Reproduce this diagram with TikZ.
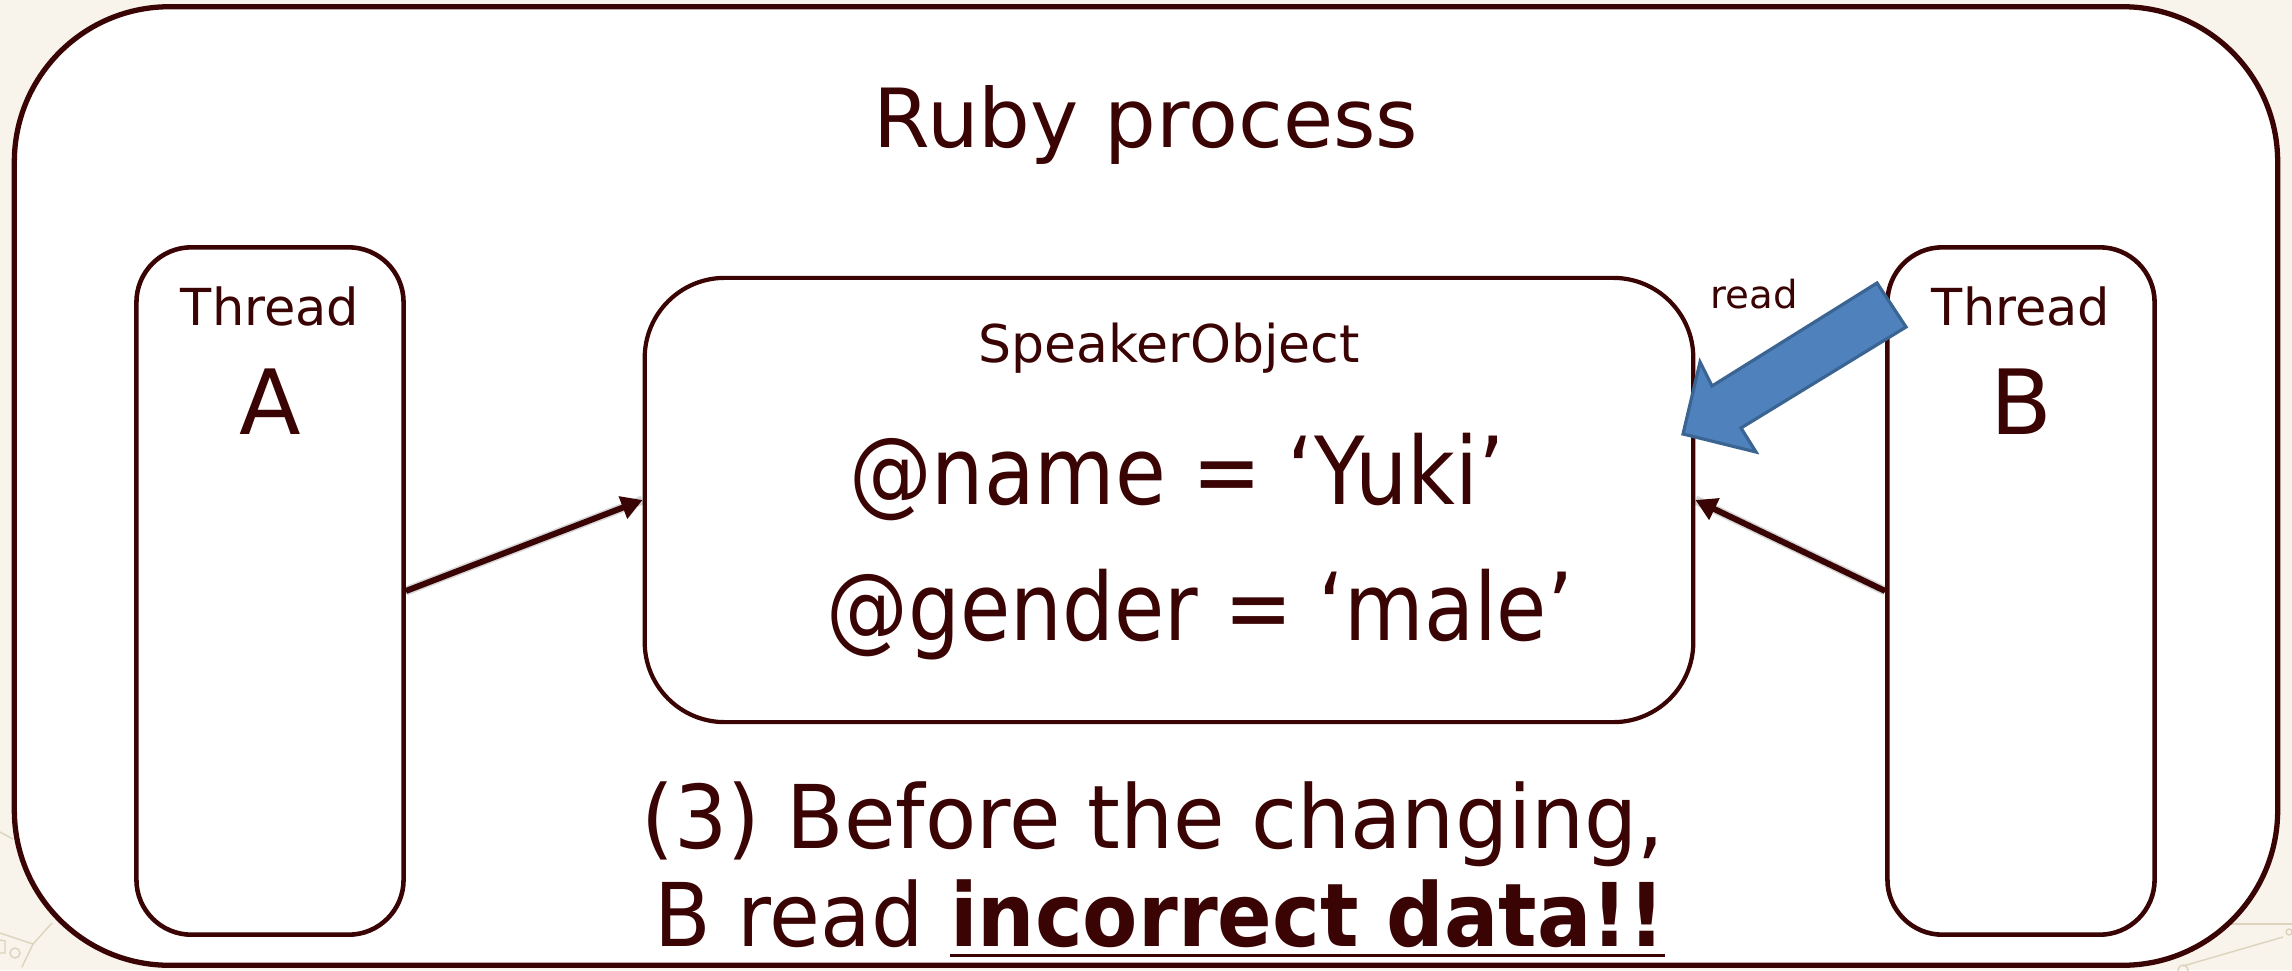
\documentclass[tikz,border=0pt]{standalone}
\usepackage{fontspec}
\setmainfont{DejaVu Sans}
\usetikzlibrary{arrows.meta}

\definecolor{ink}{HTML}{3A0404}
\definecolor{paper}{HTML}{F8F4EC}
\definecolor{sketch}{HTML}{DDD3BD}
\definecolor{blockfill}{HTML}{4F81BD}
\definecolor{blockedge}{HTML}{3A6491}

% font size helper (pt)
\newcommand\fsz[1]{\fontsize{#1}{#1}\selectfont}
% heavy underline
\newcommand\thickul[1]{\sbox0{#1}\rlap{\usebox0}\rule[-3.1pt]{\wd0}{0.9pt}}

\tikzset{
  frame/.style={draw=ink, line width=1.5pt, fill=white, rounded corners=1.55cm, inner sep=0},
  threadbox/.style={draw=ink, line width=1.3pt, fill=white, rounded corners=0.55cm,
    minimum width=2.67cm, minimum height=6.87cm, inner sep=0},
  objbox/.style={draw=ink, line width=1.2pt, fill=white, rounded corners=0.8cm,
    minimum width=10.48cm, minimum height=4.44cm, inner sep=0},
  lbl/.style={text=ink, inner sep=0, anchor=base},
  link/.style={draw=ink, line width=1.7pt, -{Triangle[length=6pt,width=6.5pt]}},
  linkshadow/.style={draw=black, opacity=0.16, line width=2.6pt},
  blockarrow/.style={fill=blockfill, draw=blockedge, line width=0.9pt, line join=miter},
  sketchline/.style={draw=sketch, line width=0.4pt}
}

\begin{document}
\begin{tikzpicture}[x=0.01cm, y=-0.01cm]
  % page
  \fill[paper] (0,0) rectangle (2292,970);
  \useasboundingbox (0,0) rectangle (2292,970);

  % faint template sketch in the lower corners
  \draw[sketchline] (0,832) -- (13,839);
  \draw[sketchline] (0,933) -- (33,944) -- (52,923);
  \draw[sketchline] (33,944) -- (22,967);
  \draw[sketchline] (0,940) -- (5,941) -- (5,953) -- (0,953);
  \draw[sketchline] (15,953) circle (5);
  \draw[sketchline] (2230,924) -- (2292,924);
  \draw[sketchline] (2283,937) -- (2183,966);
  \draw[sketchline] (2289,932) circle (3);
  \draw[sketchline] (2183,970) circle (5);

  % process frame
  \node[frame, minimum width=22.62cm, minimum height=9.58cm] (proc) at (1146,486) {};
  \node[lbl, font=\fsz{23.2}] (proctitle) at (1146,147) {Ruby process};

  % threads
  \node[threadbox] (thA) at (270,591) {};
  \node[threadbox] (thB) at (2021,591) {};
  \node[lbl, font=\fsz{14.5}] (thAname) at (270,325) {Thread};
  \node[lbl, font=\fsz{25.6}] (thAid) at (270,434) {A};
  \node[lbl, font=\fsz{14.5}] (thBname) at (2021,325) {Thread};
  \node[lbl, font=\fsz{25.6}] (thBid) at (2021,434) {B};

  % shared object
  \node[objbox] (obj) at (1169,500) {};
  \node[lbl, font=\fsz{14.8}] (objname) at (1169,362) {SpeakerObject};
  \node[lbl, font=\fsz{26.7}] (attrname) at (1177,504) {\scalebox{0.88}[1]{@name = ‘Yuki’}};
  \node[lbl, font=\fsz{26.7}] (attrgender) at (1200,640) {\scalebox{0.87}[1]{@gender = ‘male’}};

  % accesses
  \draw[linkshadow, shift={(2,4)}] (thA.east) -- (obj.west);
  \draw[linkshadow, shift={(-2,4)}] (thB.west) -- (obj.east);
  \draw[link] (thA.east) -- (obj.west);
  \draw[link] (thB.west) -- (obj.east);

  % B reads the object
  \draw[blockarrow] (1877,283) -- (1906,327) -- (1741,428) -- (1756,452)
    -- (1683,434) -- (1700,362) -- (1712,386) -- cycle;
  \node[lbl, font=\fsz{11}] (readlbl) at (1754,308) {read};

  % caption
  \node[lbl, font=\fsz{25}] (cap1) at (1153,848) {\scalebox{0.953}[1]{(3) Before the changing,}};
  \node[lbl, font=\fsz{25}] (cap2) at (1160,946) {\scalebox{0.94}[1]{B read \thickul{\scalebox{0.975}[1]{\textbf{incorrect data!!}}}}};
\end{tikzpicture}
\end{document}
